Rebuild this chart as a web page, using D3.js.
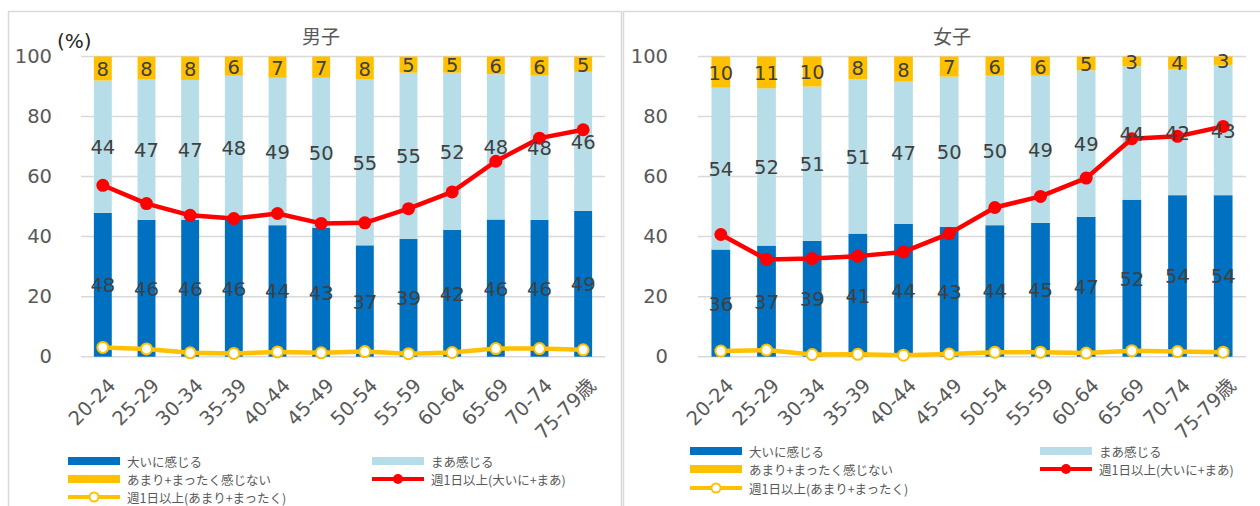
<!DOCTYPE html>
<html>
<head>
<meta charset="utf-8">
<script src="https://cdn.jsdelivr.net/npm/d3@7"></script>
<style>
  html, body { margin: 0; padding: 0; background: #fff; }
  svg { display: block; }
  .num { font-family: "DejaVu Sans", Verdana, sans-serif; }
  .jp { font-family: "Noto Sans CJK JP", "Noto Sans", sans-serif; }
</style>
</head>
<body>
<svg id="chart" width="1260" height="506"></svg>
<script>
// ---------- data ----------
const categories = ["20-24","25-29","30-34","35-39","40-44","45-49","50-54","55-59","60-64","65-69","70-74","75-79歳"];
const yTicks = [0, 20, 40, 60, 80, 100];

const seriesNames = ["大いに感じる", "まあ感じる", "あまり+まったく感じない", "週1日以上(大いに+まあ)", "週1日以上(あまり+まったく)"];

// 男子
const menStrong   = [47.9, 45.6, 45.6, 45.6, 43.8, 43.0, 37.1, 39.2, 42.2, 45.7, 45.6, 48.6];
const menSomewhat = [44.1, 46.7, 46.6, 48.0, 49.1, 49.9, 55.2, 55.4, 52.4, 48.4, 48.0, 46.3];
const menNot      = [8.0, 7.7, 7.8, 6.4, 7.1, 7.1, 7.7, 5.4, 5.4, 5.9, 6.4, 5.1];
const menWeeklyFeel   = [57.1, 51.0, 47.1, 46.0, 47.7, 44.4, 44.6, 49.3, 54.9, 65.1, 72.8, 75.6];
const menWeeklyNoFeel = [3.1, 2.6, 1.3, 1.1, 1.6, 1.3, 1.7, 1.0, 1.4, 2.7, 2.7, 2.3];

// 女子
const womenStrong   = [35.7, 37.0, 38.6, 41.0, 44.2, 43.2, 43.8, 44.6, 46.6, 52.3, 53.8, 53.8];
const womenSomewhat = [53.9, 52.4, 51.4, 51.4, 47.4, 50.1, 49.8, 49.0, 48.8, 44.4, 42.0, 43.4];
const womenNot      = [10.4, 10.6, 10.0, 7.6, 8.4, 6.7, 6.4, 6.4, 4.6, 3.3, 4.2, 2.8];
const womenWeeklyFeel   = [40.7, 32.4, 32.7, 33.5, 34.9, 41.0, 49.7, 53.4, 59.5, 72.6, 73.4, 76.7];
const womenWeeklyNoFeel = [1.9, 2.2, 0.7, 0.8, 0.5, 0.9, 1.5, 1.5, 1.2, 2.0, 1.7, 1.5];

// ---------- styles ----------
const C_STRONG = "#0070c0", C_SOME = "#b7dde8", C_NOT = "#ffc000", C_RED = "#ff0000", C_YEL = "#ffc000";
const C_TEXT = "#404040", C_AXIS = "#595959", C_GRID = "#d9d9d9";

const svg = d3.select("#chart");
svg.append("rect").attr("width", 1260).attr("height", 506).attr("fill", "#fff");

function drawPanel(cfg) {
  const g = svg.append("g");
  // frame
  g.append("rect").attr("x", cfg.frame[0] + 0.5).attr("y", 11.5)
    .attr("width", cfg.frame[1] - cfg.frame[0]).attr("height", 600)
    .attr("fill", "none").attr("stroke", C_GRID).attr("stroke-width", 1.5);

  const x = d3.scaleBand().domain(categories).range([cfg.x0, cfg.x1])
    .paddingInner(0.59).paddingOuter(0.295);
  const y = d3.scaleLinear().domain([0, 100]).range([356.7, 56.5]);

  // gridlines
  g.append("g").selectAll("line").data(yTicks).join("line")
    .attr("x1", cfg.x0).attr("x2", cfg.x1)
    .attr("y1", d => y(d)).attr("y2", d => y(d))
    .attr("stroke", C_GRID).attr("stroke-width", 1.5);

  // y axis labels
  const yAxis = d3.axisLeft(y).tickValues(yTicks).tickSize(0).tickPadding(cfg.yLabelPad);
  const ya = g.append("g").attr("transform", `translate(${cfg.x0},0)`).call(yAxis);
  ya.select(".domain").remove();
  ya.selectAll("text").attr("class", "num").attr("font-size", 19.5).attr("fill", C_AXIS);

  // x axis labels
  const xAxis = d3.axisBottom(x).tickSize(0).tickPadding(0);
  const xa = g.append("g").attr("transform", `translate(0,${y(0)})`).call(xAxis);
  xa.select(".domain").remove();
  xa.selectAll("text")
    .attr("font-family", "'DejaVu Sans', 'Noto Sans CJK JP', sans-serif")
    .attr("font-size", 19.5).attr("fill", C_AXIS)
    .attr("text-anchor", "end").attr("dy", null).attr("y", 0)
    .attr("transform", "translate(14,30) rotate(-45)");

  // stacked bars
  const rows = categories.map((c, i) => ({ cat: c, a: cfg.strong[i], b: cfg.some[i], c: cfg.not[i] }));
  const stack = d3.stack().keys(["a", "b", "c"])(rows);
  const colors = [C_STRONG, C_SOME, C_NOT];
  const bars = g.append("g");
  stack.forEach((layer, li) => {
    bars.append("g").attr("fill", colors[li]).selectAll("rect").data(layer).join("rect")
      .attr("x", d => x(d.data.cat)).attr("width", x.bandwidth())
      .attr("y", d => y(d[1])).attr("height", d => y(d[0]) - y(d[1]));
  });

  const cx = d => x(d) + x.bandwidth() / 2;

  // red line
  const line = d3.line().x(d => cx(d.cat)).y(d => y(d.v));
  const redData = categories.map((c, i) => ({ cat: c, v: cfg.red[i] }));
  g.append("path").datum(redData).attr("d", line).attr("fill", "none")
    .attr("stroke", C_RED).attr("stroke-width", 4.5).attr("stroke-linejoin", "round");
  g.append("g").selectAll("circle").data(redData).join("circle")
    .attr("cx", d => cx(d.cat)).attr("cy", d => y(d.v)).attr("r", 6.5).attr("fill", C_RED);

  // yellow line
  const yelData = categories.map((c, i) => ({ cat: c, v: cfg.yel[i] }));
  g.append("path").datum(yelData).attr("d", line).attr("fill", "none")
    .attr("stroke", C_YEL).attr("stroke-width", 4.5).attr("stroke-linejoin", "round");
  g.append("g").selectAll("circle").data(yelData).join("circle")
    .attr("cx", d => cx(d.cat)).attr("cy", d => y(d.v)).attr("r", 5.5)
    .attr("fill", "#fff").attr("stroke", C_YEL).attr("stroke-width", 2);

  // data labels
  const fmt = d3.format(".0f");
  stack.forEach(layer => {
    g.append("g").selectAll("text").data(layer).join("text")
      .attr("class", "num").attr("font-size", 19.5).attr("fill", C_TEXT)
      .attr("text-anchor", "middle").attr("dominant-baseline", "central")
      .attr("x", d => cx(d.data.cat)).attr("y", d => y((d[0] + d[1]) / 2) + 1)
      .text(d => fmt(d[1] - d[0]));
  });

  // title
  g.append("text").attr("class", "jp").attr("x", cfg.titleX).attr("y", 35)
    .attr("text-anchor", "middle").attr("dominant-baseline", "central")
    .attr("font-size", 19).attr("fill", C_AXIS).text(cfg.title);

  if (cfg.unit) {
    g.append("text").attr("class", "num").attr("x", 57).attr("y", 48)
      .attr("font-size", 20).attr("fill", "#262626").text("(%)");
  }

  // legend
  const L = cfg.legend;
  const lg = g.append("g").attr("class", "jp").attr("font-size", 12.5).attr("fill", C_AXIS);
  const items = [
    { name: seriesNames[0], type: "bar", color: C_STRONG, col: 0, row: 0 },
    { name: seriesNames[1], type: "bar", color: C_SOME, col: 1, row: 0 },
    { name: seriesNames[2], type: "bar", color: C_NOT, col: 0, row: 1 },
    { name: seriesNames[3], type: "red", color: C_RED, col: 1, row: 1 },
    { name: seriesNames[4], type: "yel", color: C_YEL, col: 0, row: 2 }
  ];
  items.forEach(it => {
    const sx = L.cols[it.col], sy = L.rows[it.row];
    if (it.type === "bar") {
      lg.append("rect").attr("x", sx).attr("y", sy - 4).attr("width", 52).attr("height", 8).attr("fill", it.color);
    } else {
      lg.append("line").attr("x1", sx).attr("x2", sx + 52).attr("y1", sy).attr("y2", sy)
        .attr("stroke", it.color).attr("stroke-width", 4);
      if (it.type === "red") {
        lg.append("circle").attr("cx", sx + 26).attr("cy", sy).attr("r", 5).attr("fill", C_RED);
      } else {
        lg.append("circle").attr("cx", sx + 26).attr("cy", sy).attr("r", 4.5)
          .attr("fill", "#fff").attr("stroke", C_YEL).attr("stroke-width", 2);
      }
    }
    lg.append("text").attr("x", sx + 59).attr("y", sy).attr("dominant-baseline", "central").text(it.name);
  });
}

drawPanel({
  frame: [8, 621], x0: 81, x1: 605, yLabelPad: 29, title: "男子", titleX: 321, unit: true,
  strong: menStrong, some: menSomewhat, not: menNot, red: menWeeklyFeel, yel: menWeeklyNoFeel,
  legend: { cols: [68, 372], rows: [461, 479, 497] }
});
drawPanel({
  frame: [623, 1300], x0: 698, x1: 1246, yLabelPad: 30, title: "女子", titleX: 952, unit: false,
  strong: womenStrong, some: womenSomewhat, not: womenNot, red: womenWeeklyFeel, yel: womenWeeklyNoFeel,
  legend: { cols: [690, 1040], rows: [451, 469, 488] }
});
</script>
</body>
</html>
